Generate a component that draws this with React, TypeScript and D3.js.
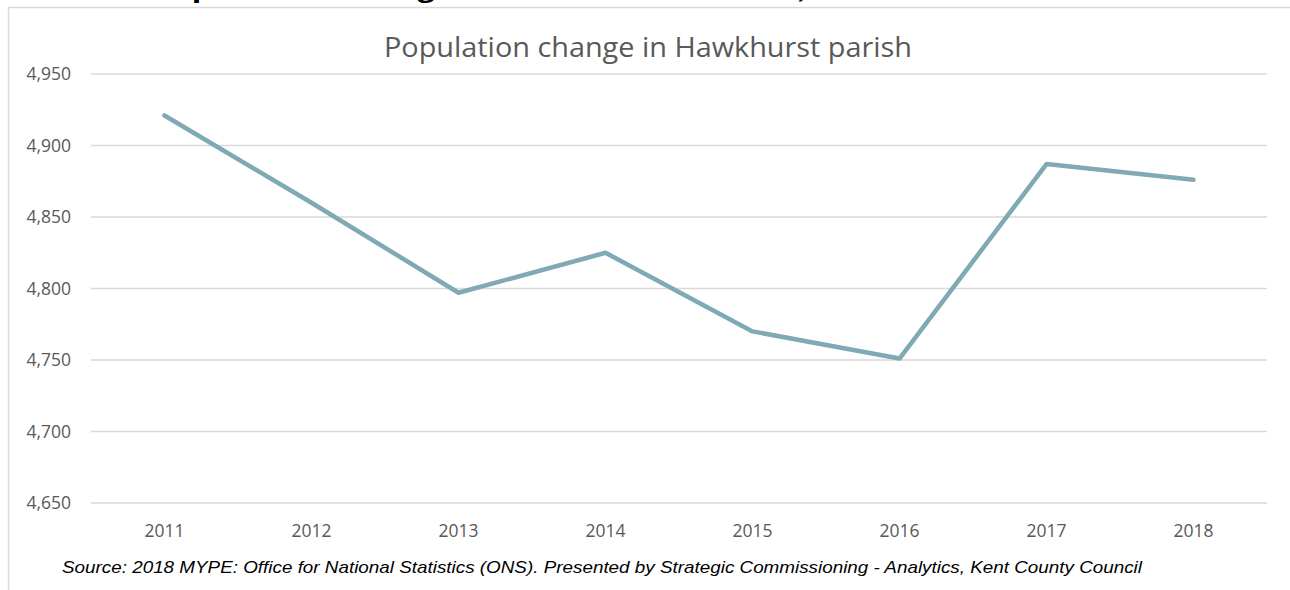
import React from "react";
import * as d3 from "d3";

const years = ["2011", "2012", "2013", "2014", "2015", "2016", "2017", "2018"];
const population = [4921, 4860, 4797, 4825, 4770, 4751, 4887, 4876];
const yTicks = [4650, 4700, 4750, 4800, 4850, 4900, 4950];

const W = 1290;
const H = 590;

export default function App() {
  const x = d3.scaleBand<string>().domain(years).range([91, 1267]);
  const y = d3.scaleLinear().domain([4650, 4950]).range([503, 74]);
  const fmt = d3.format(",");
  const line = d3
    .line<number>()
    .x((_, i) => (x(years[i]) as number) + x.bandwidth() / 2)
    .y((d) => y(d));

  const gray = "#595959";
  const font = "'Open Sans', 'Noto Sans', sans-serif";

  return (
    <svg
      width={W}
      height={H}
      style={{ position: "fixed", left: 0, top: 0, background: "#fff" }}
    >
      <rect x={0} y={0} width={W} height={H} fill="#fff" />
      {/* cut-off heading above the chart frame */}
      <text
        x={8}
        y={-2}
        fontFamily="'Liberation Sans', Arial, sans-serif"
        fontWeight="bold"
        fontSize={24}
        fill="#000"
        textLength={970}
        lengthAdjust="spacingAndGlyphs"
      >
        Chart 4: Population change in Hawkhurst Parish, 2011-2018
      </text>
      {/* chart frame */}
      <rect x={8.5} y={7.5} width={W + 10} height={H + 10} fill="none" stroke="#d9d9d9" strokeWidth={1.5} />

      <text
        x={648}
        y={57}
        textAnchor="middle"
        fontFamily={font}
        fontSize={27}
        fill={gray}
        textLength={528}
        lengthAdjust="spacingAndGlyphs"
      >
        Population change in Hawkhurst parish
      </text>

      {yTicks.map((t) => (
        <g key={t}>
          <line x1={91} x2={1267} y1={y(t)} y2={y(t)} stroke="#d9d9d9" strokeWidth={1.3} />
          <text
            x={71}
            y={y(t)}
            dy="0.35em"
            textAnchor="end"
            fontFamily={font}
            fontSize={17.5}
            fill={gray}
          >
            {fmt(t)}
          </text>
        </g>
      ))}

      {years.map((yr) => (
        <text
          key={yr}
          x={(x(yr) as number) + x.bandwidth() / 2}
          y={537}
          textAnchor="middle"
          fontFamily={font}
          fontSize={17.5}
          fill={gray}
        >
          {yr}
        </text>
      ))}

      <path
        d={line(population) ?? ""}
        fill="none"
        stroke="#7fa9b5"
        strokeWidth={4.5}
        strokeLinecap="round"
        strokeLinejoin="round"
      />

      <text
        x={62}
        y={573}
        fontFamily="'Liberation Sans', Arial, sans-serif"
        fontStyle="italic"
        fontSize={16.5}
        fill="#000"
        textLength={1080}
        lengthAdjust="spacingAndGlyphs"
      >
        Source: 2018 MYPE:  Office for National Statistics (ONS). Presented by Strategic Commissioning - Analytics, Kent County Council
      </text>
    </svg>
  );
}
